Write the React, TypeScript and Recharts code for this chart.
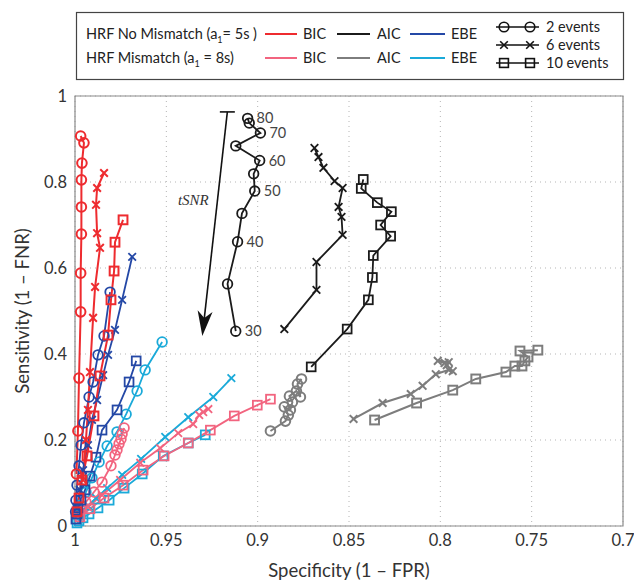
import React from 'react';
import {
  ComposedChart,
  Line,
  XAxis,
  YAxis,
  CartesianGrid,
  ReferenceArea,
  ReferenceLine,
  LabelList,
} from 'recharts';

// tSNR levels, one point per level on every curve
const tsnr = [30, 35, 40, 45, 50, 55, 60, 65, 70, 75, 80];

// [specificity, sensitivity] per tSNR level — HRF no mismatch (a1 = 5s)
const bicMatch2 = [[0.9992, 0.121], [0.9984, 0.221], [0.9978, 0.344], [0.9969, 0.498], [0.9969, 0.588], [0.9965, 0.679], [0.9965, 0.742], [0.9965, 0.805], [0.9962, 0.844], [0.9951, 0.891], [0.9969, 0.907]];
const bicMatch6 = [[0.9956, 0.107], [0.994, 0.2], [0.9929, 0.27], [0.9918, 0.358], [0.9901, 0.484], [0.989, 0.556], [0.9863, 0.647], [0.9879, 0.681], [0.9885, 0.747], [0.9879, 0.786], [0.9841, 0.821]];
const bicMatch10 = [[0.9989, 0.033], [0.9978, 0.065], [0.9962, 0.107], [0.9934, 0.163], [0.9896, 0.256], [0.9863, 0.349], [0.9819, 0.444], [0.9803, 0.526], [0.9786, 0.593], [0.9781, 0.66], [0.9737, 0.712]];
const aicMatch2 = [[0.912, 0.453], [0.9165, 0.563], [0.911, 0.661], [0.9086, 0.727], [0.9016, 0.779], [0.9022, 0.819], [0.8989, 0.85], [0.912, 0.884], [0.8985, 0.914], [0.9046, 0.937], [0.9055, 0.948]];
const aicMatch6 = [[0.8854, 0.458], [0.8678, 0.549], [0.8678, 0.614], [0.8535, 0.677], [0.8541, 0.719], [0.8557, 0.742], [0.8535, 0.786], [0.8579, 0.802], [0.864, 0.833], [0.8667, 0.858], [0.8689, 0.879]];
const aicMatch10 = [[0.8707, 0.37], [0.851, 0.458], [0.8394, 0.526], [0.8372, 0.578], [0.8367, 0.629], [0.8272, 0.674], [0.8327, 0.7], [0.8268, 0.731], [0.8345, 0.752], [0.8433, 0.785], [0.8422, 0.806]];
const ebeMatch2 = [[0.9997, 0.033], [0.9995, 0.06], [0.9989, 0.095], [0.9978, 0.14], [0.9967, 0.188], [0.9951, 0.24], [0.9923, 0.3], [0.9901, 0.335], [0.9874, 0.398], [0.9841, 0.442], [0.9808, 0.544]];
const ebeMatch6 = [[0.9989, 0.042], [0.9973, 0.084], [0.9956, 0.13], [0.9929, 0.188], [0.9907, 0.247], [0.9879, 0.293], [0.9846, 0.351], [0.9819, 0.398], [0.9781, 0.456], [0.9742, 0.526], [0.9687, 0.626]];
const ebeMatch10 = [[0.9995, 0.016], [0.9989, 0.028], [0.9984, 0.042], [0.9967, 0.06], [0.9945, 0.084], [0.9918, 0.116], [0.9885, 0.16], [0.9852, 0.223], [0.977, 0.27], [0.9704, 0.335], [0.9665, 0.384]];

// HRF mismatch (a1 = 8s)
const bicMis2 = [[0.9978, 0.033], [0.994, 0.056], [0.9896, 0.079], [0.9852, 0.102], [0.9803, 0.14], [0.9781, 0.165], [0.977, 0.177], [0.9759, 0.191], [0.9748, 0.202], [0.9742, 0.214], [0.9731, 0.228]];
const bicMis6 = [[0.9978, 0.023], [0.9929, 0.044], [0.9852, 0.072], [0.9753, 0.107], [0.9643, 0.147], [0.9534, 0.181], [0.9435, 0.216], [0.9353, 0.237], [0.932, 0.258], [0.9298, 0.265], [0.927, 0.272]];
const bicMis10 = [[0.9973, 0.021], [0.9918, 0.04], [0.9841, 0.065], [0.9737, 0.095], [0.9627, 0.13], [0.9512, 0.163], [0.938, 0.193], [0.9259, 0.223], [0.9128, 0.256], [0.9002, 0.281], [0.893, 0.295]];
const aicMis2 = [[0.893, 0.221], [0.8848, 0.244], [0.8832, 0.258], [0.8854, 0.277], [0.8821, 0.27], [0.881, 0.288], [0.8826, 0.302], [0.8788, 0.314], [0.8766, 0.3], [0.8782, 0.33], [0.876, 0.342]];
const aicMis6 = [[0.8475, 0.249], [0.8316, 0.286], [0.8162, 0.307], [0.8097, 0.326], [0.8025, 0.353], [0.7954, 0.363], [0.7932, 0.36], [0.7965, 0.374], [0.7954, 0.381], [0.8014, 0.384], [0.7976, 0.379]];
const aicMis10 = [[0.836, 0.2465], [0.813, 0.286], [0.7932, 0.316], [0.7806, 0.342], [0.7641, 0.358], [0.7592, 0.372], [0.7553, 0.372], [0.7537, 0.384], [0.752, 0.393], [0.7564, 0.407], [0.7466, 0.409]];
const ebeMis2 = [[0.9989, 0.026], [0.9967, 0.049], [0.994, 0.079], [0.9907, 0.112], [0.9868, 0.149], [0.9824, 0.186], [0.977, 0.219], [0.972, 0.26], [0.966, 0.314], [0.9616, 0.363], [0.9523, 0.428]];
const ebeMis6 = [[0.9984, 0.019], [0.9962, 0.03], [0.9929, 0.047], [0.9885, 0.065], [0.9824, 0.088], [0.9742, 0.119], [0.9638, 0.156], [0.9506, 0.207], [0.938, 0.253], [0.9243, 0.3], [0.9144, 0.344]];
const ebeMis10 = [[0.9989, 0.007], [0.9978, 0.012], [0.9956, 0.019], [0.9923, 0.028], [0.9874, 0.042], [0.9813, 0.06], [0.9731, 0.088], [0.9632, 0.121], [0.9517, 0.163], [0.938, 0.193], [0.9287, 0.212]];

const specTicks = [1, 0.95, 0.9, 0.85, 0.8, 0.75, 0.7];
const sensTicks = [0, 0.2, 0.4, 0.6, 0.8, 1];

// tSNR arrow: start (top) and end (tip) in data units
const arrowSegment = [{ x: 0.9166, y: 0.963 }, { x: 0.9303, y: 0.442 }];

const C = {
  bic: '#ee2b2f',
  aic: '#1b1b1b',
  ebe: '#2448a6',
  bicMis: '#f2647f',
  aicMis: '#7d7d7d',
  ebeMis: '#1aaad9',
};

const FONT = 'Lato, "Open Sans", sans-serif';

type Marker = 'circle' | 'cross' | 'square';

const toRows = (pairs: number[][]) =>
  pairs.map(([spec, sens], i) => ({ spec, sens, tsnr: tsnr[i] }));

function drawMarker(kind: Marker, cx: number, cy: number, color: string, sw: number, key?: any) {
  if (kind === 'circle') {
    return <circle key={key} cx={cx} cy={cy} r={4.8} fill="none" stroke={color} strokeWidth={sw} />;
  }
  if (kind === 'square') {
    return <rect key={key} x={cx - 4.4} y={cy - 4.4} width={8.8} height={8.8} fill="none" stroke={color} strokeWidth={sw} />;
  }
  const d = 3.8;
  return (
    <path
      key={key}
      d={`M${cx - d},${cy - d}L${cx + d},${cy + d}M${cx - d},${cy + d}L${cx + d},${cy - d}`}
      stroke={color}
      strokeWidth={sw}
      fill="none"
    />
  );
}

const markerDot = (kind: Marker, color: string, sw: number) => (props: any) => {
  const { cx, cy, index } = props;
  if (cx == null || cy == null) return <g key={index} />;
  return drawMarker(kind, cx, cy, color, sw, index);
};

const series = [
  { id: 'aicMis2', pairs: aicMis2, color: C.aicMis, marker: 'circle', width: 2 },
  { id: 'aicMis6', pairs: aicMis6, color: C.aicMis, marker: 'cross', width: 2 },
  { id: 'aicMis10', pairs: aicMis10, color: C.aicMis, marker: 'square', width: 2 },
  { id: 'aicMatch2', pairs: aicMatch2, color: C.aic, marker: 'circle', width: 1.8 },
  { id: 'aicMatch6', pairs: aicMatch6, color: C.aic, marker: 'cross', width: 1.8 },
  { id: 'aicMatch10', pairs: aicMatch10, color: C.aic, marker: 'square', width: 1.8 },
  { id: 'ebeMis2', pairs: ebeMis2, color: C.ebeMis, marker: 'circle', width: 1.8 },
  { id: 'ebeMis6', pairs: ebeMis6, color: C.ebeMis, marker: 'cross', width: 1.8 },
  { id: 'ebeMis10', pairs: ebeMis10, color: C.ebeMis, marker: 'square', width: 1.8 },
  { id: 'bicMis2', pairs: bicMis2, color: C.bicMis, marker: 'circle', width: 1.8 },
  { id: 'bicMis6', pairs: bicMis6, color: C.bicMis, marker: 'cross', width: 1.8 },
  { id: 'bicMis10', pairs: bicMis10, color: C.bicMis, marker: 'square', width: 1.8 },
  { id: 'ebeMatch2', pairs: ebeMatch2, color: C.ebe, marker: 'circle', width: 1.8 },
  { id: 'ebeMatch6', pairs: ebeMatch6, color: C.ebe, marker: 'cross', width: 1.8 },
  { id: 'ebeMatch10', pairs: ebeMatch10, color: C.ebe, marker: 'square', width: 1.8 },
  { id: 'bicMatch2', pairs: bicMatch2, color: C.bic, marker: 'circle', width: 2 },
  { id: 'bicMatch6', pairs: bicMatch6, color: C.bic, marker: 'cross', width: 2 },
  { id: 'bicMatch10', pairs: bicMatch10, color: C.bic, marker: 'square', width: 2 },
] as { id: string; pairs: number[][]; color: string; marker: Marker; width: number }[];

const fmt = (v: number) => String(Number(v.toFixed(2)));

// tSNR values written beside every other point of the AIC 2-event curve
const TsnrLabel = (props: any) => {
  const { x, y, value } = props;
  if (value % 10 !== 0) return null;
  return (
    <text x={x + 9} y={y} dy="0.35em" fontSize={14.5} fill="#444" fontFamily={FONT}>
      {value}
    </text>
  );
};

const TsnrArrow = (props: any) => {
  const { x1, y1, x2, y2 } = props;
  if (x1 == null) return null;
  const ang = Math.atan2(y2 - y1, x2 - x1);
  const ux = Math.cos(ang);
  const uy = Math.sin(ang);
  const nx = -uy;
  const ny = ux;
  const len = 25;
  const half = 7.5;
  const bx = x2 - ux * len;
  const by = y2 - uy * len;
  const kx = x2 - ux * len * 0.72;
  const ky = y2 - uy * len * 0.72;
  return (
    <g>
      <line x1={x1} y1={y1} x2={kx} y2={ky} stroke="#111" strokeWidth={1.6} />
      <line x1={x1 - 7.5} y1={y1} x2={x1 + 7.5} y2={y1} stroke="#111" strokeWidth={1.6} />
      <path
        d={`M${x2},${y2}L${bx + nx * half},${by + ny * half}L${kx},${ky}L${bx - nx * half},${by - ny * half}Z`}
        fill="#111"
      />
      <text
        x={x1 - 34}
        y={y1 + 88}
        dy="0.35em"
        textAnchor="middle"
        fontFamily='"Liberation Serif", "DejaVu Serif", serif'
        fontStyle="italic"
        fontSize={15}
        fill="#333"
      >
        tSNR
      </text>
    </g>
  );
};

const LegendBox = () => {
  const rows = [
    { y: 34, title: ['HRF No Mismatch (a', '= 5s )'], colors: [C.bic, C.aic, C.ebe] },
    { y: 58, title: ['HRF Mismatch (a', ' = 8s)'], colors: [C.bicMis, C.aicMis, C.ebeMis] },
  ];
  const methods = [
    { name: 'BIC', x0: 265, x1: 297, tx: 303 },
    { name: 'AIC', x0: 337, x1: 370, tx: 377 },
    { name: 'EBE', x0: 410, x1: 445, tx: 451 },
  ];
  const events = [
    { y: 27, label: '2 events', marker: 'circle' as Marker },
    { y: 45, label: '6 events', marker: 'cross' as Marker },
    { y: 63, label: '10 events', marker: 'square' as Marker },
  ];
  return (
    <svg width={634} height={90} style={{ position: 'absolute', left: 0, top: 0 }}>
      <rect x={76.5} y={12.5} width={547} height={67} fill="#fff" stroke="#444" strokeWidth={1.2} />
      <g fontFamily={FONT} fontSize={14.5} fill="#222">
        {rows.map((r) => (
          <g key={r.y}>
            <text x={86} y={r.y} dy="0.35em">
              {r.title[0]}
              <tspan fontSize={9} dy={4}>1</tspan>
              <tspan dy={-4}>{r.title[1]}</tspan>
            </text>
            {methods.map((m, i) => (
              <g key={m.name}>
                <line x1={m.x0} y1={r.y} x2={m.x1} y2={r.y} stroke={r.colors[i]} strokeWidth={2} />
                <text x={m.tx} y={r.y} dy="0.35em">{m.name}</text>
              </g>
            ))}
          </g>
        ))}
        {events.map((e) => (
          <g key={e.label}>
            <line x1={496} y1={e.y} x2={539} y2={e.y} stroke="#111" strokeWidth={1.6} />
            {drawMarker(e.marker, 504, e.y, '#111', 1.6)}
            {drawMarker(e.marker, 530, e.y, '#111', 1.6)}
            <text x={546} y={e.y} dy="0.35em">{e.label}</text>
          </g>
        ))}
      </g>
    </svg>
  );
};

export default function App() {
  return (
    <div style={{ position: 'absolute', left: 0, top: 0, width: 634, height: 580, background: '#fff' }}>
      <ComposedChart width={634} height={580} margin={{ top: 96, right: 11, bottom: 0, left: 0 }}>
        <CartesianGrid stroke="#b5b5b5" strokeDasharray="1 4" />
        <XAxis
          type="number"
          dataKey="spec"
          reversed
          domain={[0.7, 1]}
          ticks={specTicks}
          interval={0}
          tickFormatter={fmt}
          tickLine={false}
          axisLine={false}
          height={54}
          tick={{ fill: '#333', fontSize: 16.5, fontFamily: FONT }}
          label={{
            value: 'Specificity (1 – FPR)',
            position: 'insideBottom',
            offset: 3,
            fill: '#333',
            fontSize: 18.5,
            fontFamily: FONT,
          }}
        />
        <YAxis
          type="number"
          dataKey="sens"
          domain={[0, 1]}
          ticks={sensTicks}
          interval={0}
          tickFormatter={fmt}
          tickLine={false}
          axisLine={false}
          width={75}
          tick={{ fill: '#333', fontSize: 16.5, fontFamily: FONT }}
          label={{
            content: (p: any) => {
              const vb = p.viewBox || { x: 0, y: 96, width: 75, height: 430 };
              const cx = vb.x + 22;
              const cy = vb.y + vb.height / 2;
              return (
                <text
                  x={cx}
                  y={cy}
                  transform={`rotate(-90, ${cx}, ${cy})`}
                  textAnchor="middle"
                  dominantBaseline="central"
                  fill="#333"
                  fontSize={18.5}
                  fontFamily={FONT}
                >
                  Sensitivity (1 – FNR)
                </text>
              );
            },
          }}
        />
        <ReferenceArea x1={1} x2={0.7} y1={0} y2={1} fill="none" stroke="#8a8a8a" strokeWidth={1.2} />
        <ReferenceLine segment={arrowSegment} shape={TsnrArrow} />
        {series.map((s) => (
          <Line
            key={s.id}
            data={toRows(s.pairs)}
            dataKey="sens"
            type="linear"
            stroke={s.color}
            strokeWidth={s.width}
            dot={markerDot(s.marker, s.color, s.width)}
            activeDot={false}
            isAnimationActive={false}
          >
            {s.id === 'aicMatch2' && <LabelList dataKey="tsnr" content={TsnrLabel} />}
          </Line>
        ))}
      </ComposedChart>
      <LegendBox />
    </div>
  );
}
